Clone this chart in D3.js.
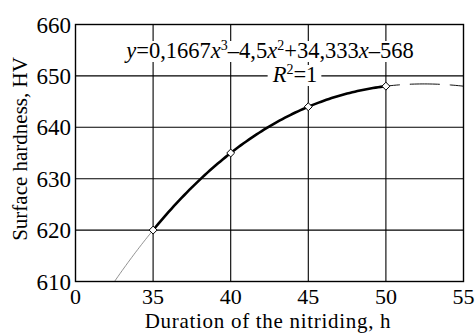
<!DOCTYPE html>
<html><head><meta charset="utf-8">
<script src="https://cdn.jsdelivr.net/npm/d3@7"></script>
<style>
html,body{margin:0;padding:0;background:#fff;}
svg{display:block;font-family:"Liberation Serif","Times New Roman",serif;}
</style></head>
<body>
<svg id="c" width="475" height="333"></svg>
<script>
// Data
const hours = [35, 40, 45, 50];
const hardness = [620, 635, 644, 648];
const xTicks = [30, 35, 40, 45, 50, 55];
const xTickLabels = ["0", "35", "40", "45", "50", "55"];
const yTicks = [610, 620, 630, 640, 650, 660];
const trendBefore = [32.5, 35];
const trendAfter = [50, 55];

const svg = d3.select("#c");
const x = d3.scaleLinear().domain([30, 55]).range([75.5, 463.5]);
const y = d3.scaleLinear().domain([610, 660]).range([281.5, 24.5]);

// cubic through the data points (trendline, R^2=1)
function poly(t){
  let s = 0;
  for (let i = 0; i < hours.length; i++){
    let p = hardness[i];
    for (let j = 0; j < hours.length; j++) if (j !== i) p *= (t - hours[j]) / (hours[i] - hours[j]);
    s += p;
  }
  return s;
}
function samples(a, b, n){ return d3.range(n + 1).map(i => a + (b - a) * i / n); }

// grid
const g = svg.append("g");
g.selectAll("line.v").data(xTicks.slice(1, -1)).join("line")
  .attr("x1", d => x(d)).attr("x2", d => x(d)).attr("y1", y(610)).attr("y2", y(660))
  .attr("stroke", "#000").attr("stroke-width", 1.1);
g.selectAll("line.h").data(yTicks.slice(1, -1)).join("line")
  .attr("x1", x(30)).attr("x2", x(55)).attr("y1", d => y(d)).attr("y2", d => y(d))
  .attr("stroke", "#000").attr("stroke-width", 1.1);

// equation label (white background boxes)
const lab = svg.append("g");
const t1 = lab.append("text").attr("x", 270).attr("y", 58).attr("text-anchor", "middle")
  .attr("font-size", 22.5);
t1.append("tspan").attr("font-style", "italic").text("y");
t1.append("tspan").text("=0,1667");
t1.append("tspan").attr("font-style", "italic").text("x");
t1.append("tspan").attr("font-size", 14).attr("dy", -8).text("3");
t1.append("tspan").attr("dy", 8).text("–4,5");
t1.append("tspan").attr("font-style", "italic").text("x");
t1.append("tspan").attr("font-size", 14).attr("dy", -8).text("2");
t1.append("tspan").attr("dy", 8).text("+34,333");
t1.append("tspan").attr("font-style", "italic").text("x");
t1.append("tspan").text("–568");
const t2 = lab.append("text").attr("x", 295).attr("y", 82).attr("text-anchor", "middle")
  .attr("font-size", 22.5);
t2.append("tspan").attr("font-style", "italic").text("R");
t2.append("tspan").attr("font-size", 14).attr("dy", -8).text("2");
t2.append("tspan").attr("dy", 8).text("=1");
[t1, t2].forEach(t => {
  const b = t.node().getBBox();
  lab.insert("rect", "text").attr("x", b.x - 4).attr("y", b.y + 3).attr("width", b.width + 8).attr("height", b.height - 4)
    .attr("fill", "#fff");
});

// lines
const line = d3.line().x(d => x(d)).y(d => y(poly(d)));
svg.append("path").attr("d", line(samples(trendBefore[0], trendBefore[1], 20)))
  .attr("fill", "none").attr("stroke", "#777").attr("stroke-width", 0.8);
svg.append("path").attr("d", line(samples(trendAfter[0], trendAfter[1], 30)))
  .attr("fill", "none").attr("stroke", "#111").attr("stroke-width", 1)
  .attr("stroke-dasharray", "30,10").attr("stroke-dashoffset", 16);
svg.append("path").attr("d", line(samples(hours[0], hours[hours.length - 1], 90)))
  .attr("fill", "none").attr("stroke", "#000").attr("stroke-width", 2.6);

// markers
svg.selectAll("path.m").data(hours).join("path")
  .attr("d", d3.symbol().type(d3.symbolDiamond2).size(40))
  .attr("transform", (d, i) => `translate(${x(d)},${y(hardness[i])})`)
  .attr("fill", "#fff").attr("stroke", "#000").attr("stroke-width", 1);

// frame
svg.append("rect").attr("x", x(30)).attr("y", y(660)).attr("width", x(55) - x(30)).attr("height", y(610) - y(660))
  .attr("fill", "none").attr("stroke", "#000").attr("stroke-width", 1.4);

// tick labels
svg.selectAll("text.xt").data(xTicks).join("text")
  .attr("x", d => x(d)).attr("y", 304).attr("text-anchor", "middle").attr("font-size", 22)
  .text((d, i) => xTickLabels[i]);
svg.selectAll("text.yt").data(yTicks).join("text")
  .attr("x", 71).attr("y", d => y(d) + 8).attr("text-anchor", "end").attr("font-size", 23)
  .text(d => d);

// axis titles
svg.append("text").attr("x", 268).attr("y", 328).attr("text-anchor", "middle").attr("font-size", 21)
  .attr("letter-spacing", 0.7)
  .text("Duration of the nitriding, h");
svg.append("text").attr("transform", "translate(27,149) rotate(-90)").attr("text-anchor", "middle")
  .attr("font-size", 21).text("Surface hardness, HV");
</script>
</body></html>
